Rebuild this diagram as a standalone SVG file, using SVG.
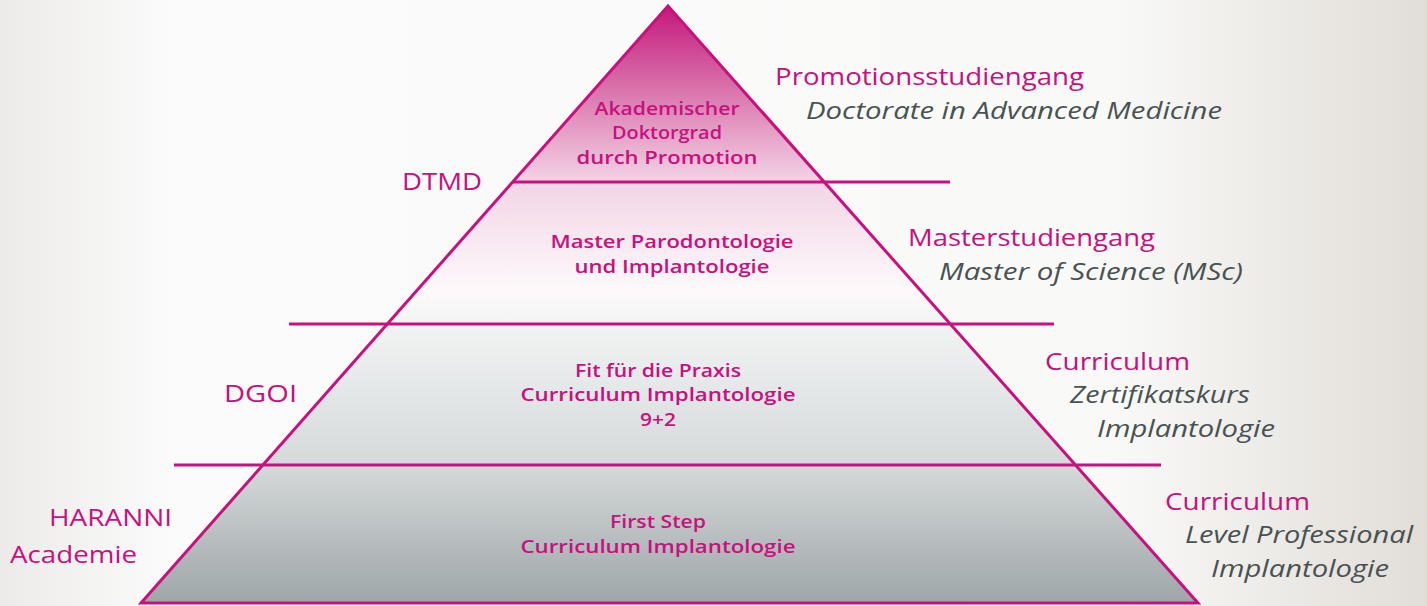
<svg xmlns="http://www.w3.org/2000/svg" width="1427" height="606" viewBox="0 0 1427 606">
<defs>
<linearGradient id="bg" x1="0" y1="0" x2="1427" y2="0" gradientUnits="userSpaceOnUse">
<stop offset="0" stop-color="#ecebe9"/>
<stop offset="0.12" stop-color="#fbfbfb"/>
<stop offset="0.78" stop-color="#f9f9f8"/>
<stop offset="0.9" stop-color="#eceae6"/>
<stop offset="1" stop-color="#e2ddd7"/>
</linearGradient>
<linearGradient id="pyr" x1="0" y1="5" x2="0" y2="603" gradientUnits="userSpaceOnUse">
<stop offset="0" stop-color="#c3177b"/>
<stop offset="0.16" stop-color="#dc7fb2"/>
<stop offset="0.3" stop-color="#f3d6e7"/>
<stop offset="0.48" stop-color="#fdf9fb"/>
<stop offset="0.54" stop-color="#f1f3f3"/>
<stop offset="0.77" stop-color="#d5d9da"/>
<stop offset="1" stop-color="#9ea6a7"/>
</linearGradient>
<style>
.edge{fill:url(#pyr);stroke:#c8107e;stroke-width:3;stroke-linejoin:miter}
.div{stroke:#c8107e;stroke-width:3}
.in{font-family:"Open Sans","Liberation Sans",sans-serif;font-weight:600;font-size:18px;fill:#c8107e;text-anchor:middle}
.org{font-family:"Open Sans","Liberation Sans",sans-serif;font-size:24px;fill:#c8107e}
.sub{font-family:"Open Sans","Liberation Sans",sans-serif;font-style:italic;font-size:24px;fill:#495253}
</style>
</defs>
<rect x="0" y="0" width="1427" height="606" fill="url(#bg)"/>
<g id="pyramid">
<polygon points="668,6 141,603 1198,603" class="edge"/>
</g>
<g id="connectors">
<line class="div" x1="512" y1="182" x2="950" y2="182"/>
<line class="div" x1="289" y1="324" x2="1054" y2="324"/>
<line class="div" x1="174" y1="465" x2="1161" y2="465"/>
</g>
<g id="tier1">
<text class="in" x="667" y="115" textLength="145" lengthAdjust="spacingAndGlyphs">Akademischer</text>
<text class="in" x="667" y="139" textLength="110" lengthAdjust="spacingAndGlyphs">Doktorgrad</text>
<text class="in" x="667" y="164" textLength="181" lengthAdjust="spacingAndGlyphs">durch Promotion</text>
</g>
<g id="tier2">
<text class="in" x="672" y="248" textLength="243" lengthAdjust="spacingAndGlyphs">Master Parodontologie</text>
<text class="in" x="672" y="273" textLength="195" lengthAdjust="spacingAndGlyphs">und Implantologie</text>
</g>
<g id="tier3">
<text class="in" x="658" y="377" textLength="166" lengthAdjust="spacingAndGlyphs">Fit für die Praxis</text>
<text class="in" x="658" y="401" textLength="275" lengthAdjust="spacingAndGlyphs">Curriculum Implantologie</text>
<text class="in" x="658" y="426" textLength="36" lengthAdjust="spacingAndGlyphs">9+2</text>
</g>
<g id="tier4">
<text class="in" x="658" y="528" textLength="96" lengthAdjust="spacingAndGlyphs">First Step</text>
<text class="in" x="658" y="553" textLength="275" lengthAdjust="spacingAndGlyphs">Curriculum Implantologie</text>
</g>
<g id="label-dtmd"><text class="org" x="402" y="190" textLength="80" lengthAdjust="spacingAndGlyphs">DTMD</text></g>
<g id="label-dgoi"><text class="org" x="224" y="402" textLength="73" lengthAdjust="spacingAndGlyphs">DGOI</text></g>
<g id="label-haranni">
<text class="org" x="49" y="526" textLength="123" lengthAdjust="spacingAndGlyphs">HARANNI</text>
<text class="org" x="10" y="563" textLength="127" lengthAdjust="spacingAndGlyphs">Academie</text>
</g>
<g id="label-promotion">
<text class="org" x="775" y="85" textLength="309" lengthAdjust="spacingAndGlyphs">Promotionsstudiengang</text>
<text class="sub" x="806" y="119" textLength="416" lengthAdjust="spacingAndGlyphs">Doctorate in Advanced Medicine</text>
</g>
<g id="label-master">
<text class="org" x="908" y="246" textLength="247" lengthAdjust="spacingAndGlyphs">Masterstudiengang</text>
<text class="sub" x="939" y="280" textLength="304" lengthAdjust="spacingAndGlyphs">Master of Science (MSc)</text>
</g>
<g id="label-curriculum1">
<text class="org" x="1045" y="370" textLength="145" lengthAdjust="spacingAndGlyphs">Curriculum</text>
<text class="sub" x="1070" y="403" textLength="180" lengthAdjust="spacingAndGlyphs">Zertifikatskurs</text>
<text class="sub" x="1097" y="437" textLength="178" lengthAdjust="spacingAndGlyphs">Implantologie</text>
</g>
<g id="label-curriculum2">
<text class="org" x="1165" y="510" textLength="145" lengthAdjust="spacingAndGlyphs">Curriculum</text>
<text class="sub" x="1185" y="543" textLength="228" lengthAdjust="spacingAndGlyphs">Level Professional</text>
<text class="sub" x="1211" y="577" textLength="178" lengthAdjust="spacingAndGlyphs">Implantologie</text>
</g>
</svg>
